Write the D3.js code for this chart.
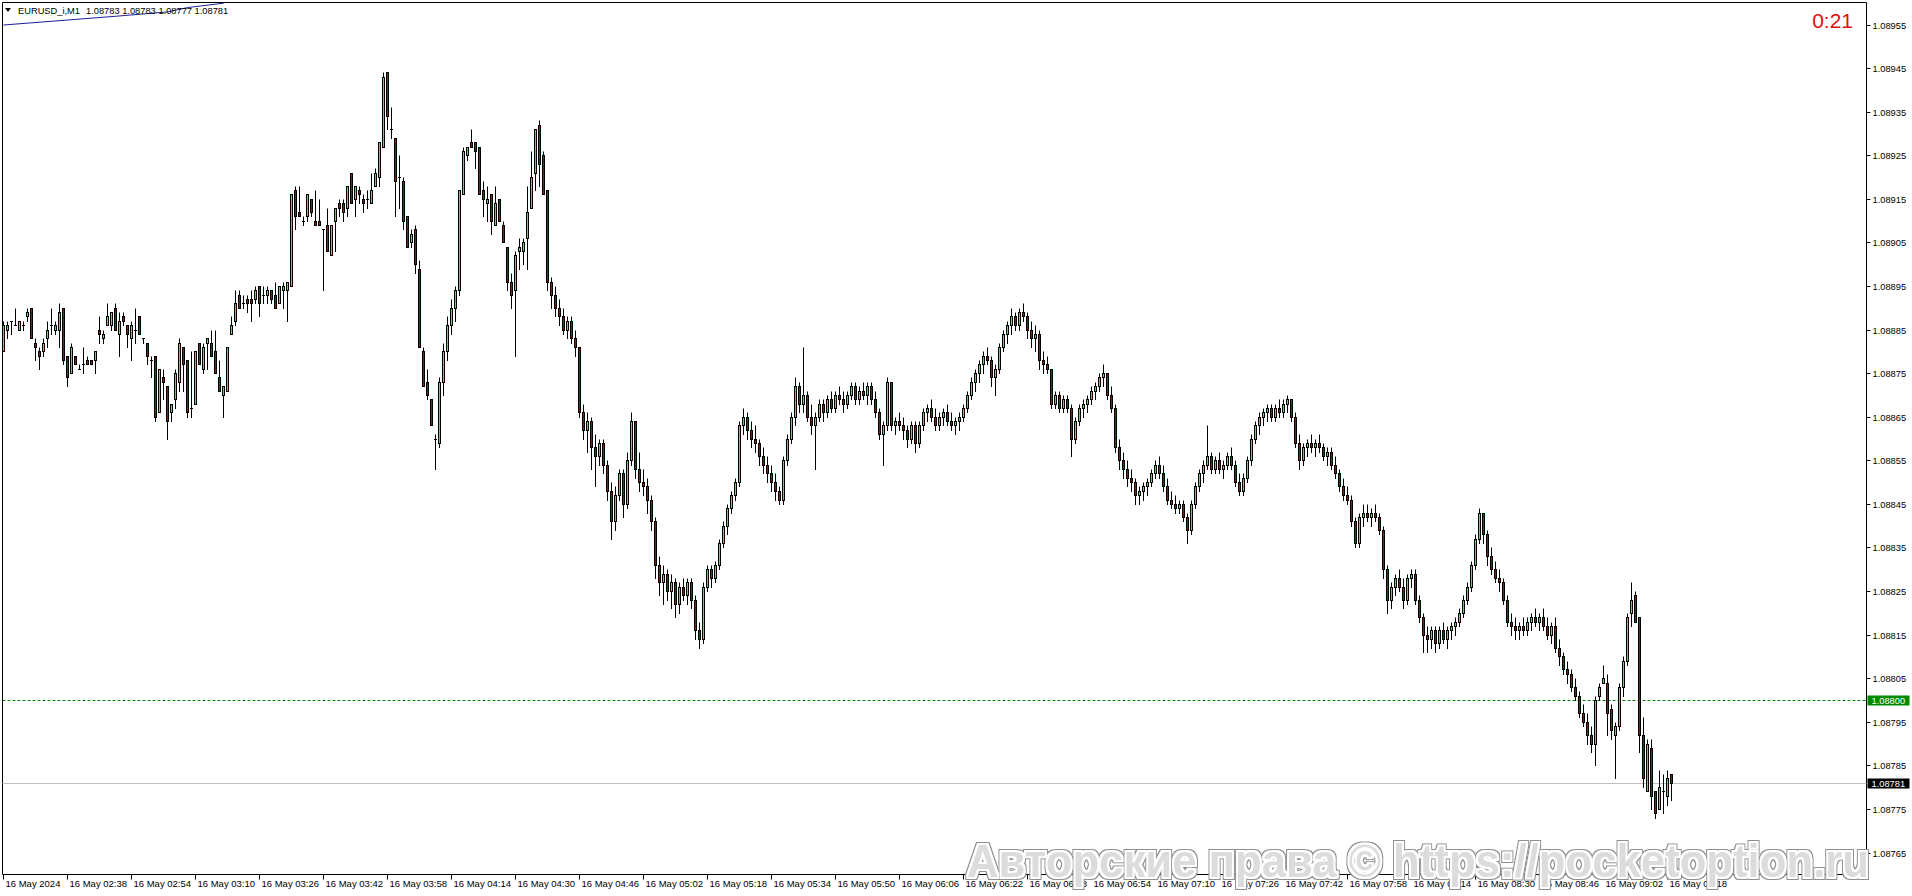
<!DOCTYPE html>
<html>
<head>
<meta charset="utf-8">
<script src="https://cdn.jsdelivr.net/npm/d3@7"></script>
<style>
  html, body { margin: 0; padding: 0; background: #fff; overflow: hidden; }
  svg { display: block; }
  text { font-family: "Liberation Sans", Arial, sans-serif; }
</style>
</head>
<body>
<svg id="chart" width="1912" height="896"></svg>
<script>
// chart values
var symbolName = "EURUSD_i,M1";
var lastQuote = ["1.08783", "1.08783", "1.08777", "1.08781"];
var timerText = "0:21";
var bidPrice = 1.08781;
var levelPrice = 1.08800;
var watermarkText = "Авторские права © https://pocketoption.ru";

var priceTicks = [1.08955, 1.08945, 1.08935, 1.08925, 1.08915, 1.08905, 1.08895, 1.08885, 1.08875, 1.08865,
  1.08855, 1.08845, 1.08835, 1.08825, 1.08815, 1.08805, 1.08795, 1.08785, 1.08775, 1.08765];

var timeLabels = ["16 May 2024", "16 May 02:38", "16 May 02:54", "16 May 03:10", "16 May 03:26", "16 May 03:42",
  "16 May 03:58", "16 May 04:14", "16 May 04:30", "16 May 04:46", "16 May 05:02", "16 May 05:18", "16 May 05:34",
  "16 May 05:50", "16 May 06:06", "16 May 06:22", "16 May 06:38", "16 May 06:54", "16 May 07:10", "16 May 07:26",
  "16 May 07:42", "16 May 07:58", "16 May 08:14", "16 May 08:30", "16 May 08:46", "16 May 09:02", "16 May 09:18"];
var barsPerLabel = 16;

// indicator line in the top-left corner (bar index, price)
var maBars = [0, 28, 41, 46, 55];
var maPrices = [1.08955, 1.08957, 1.08958, 1.08959, 1.08960];

// M1 candles from 02:22 to 09:19
var opens = [
  1.08880,1.08885,1.08887,1.08886,1.08885,1.08886,1.08888,1.08890,1.08882,1.08880,
  1.08880,1.08883,1.08886,1.08885,1.08885,1.08890,1.08879,1.08875,1.08879,1.08876,
  1.08877,1.08878,1.08878,1.08878,1.08885,1.08883,1.08886,1.08886,1.08890,1.08884,
  1.08888,1.08886,1.08883,1.08885,1.08888,1.08883,1.08882,1.08878,1.08879,1.08866,
  1.08874,1.08872,1.08866,1.08869,1.08873,1.08881,1.08878,1.08867,1.08868,1.08882,
  1.08876,1.08882,1.08882,1.08880,1.08874,1.08870,1.08871,1.08884,1.08887,1.08893,
  1.08891,1.08892,1.08892,1.08892,1.08895,1.08893,1.08893,1.08894,1.08893,1.08891,
  1.08894,1.08894,1.08895,1.08917,1.08912,1.08910,1.08911,1.08915,1.08910,1.08910,
  1.08908,1.08909,1.08902,1.08910,1.08914,1.08914,1.08913,1.08921,1.08915,1.08917,
  1.08915,1.08915,1.08914,1.08918,1.08920,1.08927,1.08944,1.08931,1.08929,1.08920,
  1.08919,1.08911,1.08905,1.08908,1.08899,1.08880,1.08873,1.08869,1.08860,1.08859,
  1.08873,1.08880,1.08886,1.08890,1.08894,1.08916,1.08925,1.08928,1.08928,1.08927,
  1.08917,1.08914,1.08916,1.08909,1.08915,1.08909,1.08904,1.08896,1.08894,1.08903,
  1.08903,1.08906,1.08913,1.08921,1.08932,1.08925,1.08917,1.08896,1.08893,1.08890,
  1.08888,1.08885,1.08887,1.08883,1.08881,1.08866,1.08862,1.08864,1.08858,1.08856,
  1.08859,1.08854,1.08848,1.08841,1.08847,1.08852,1.08845,1.08855,1.08864,1.08853,
  1.08850,1.08849,1.08846,1.08841,1.08831,1.08827,1.08829,1.08825,1.08827,1.08822,
  1.08826,1.08824,1.08827,1.08823,1.08816,1.08814,1.08826,1.08830,1.08828,1.08831,
  1.08836,1.08840,1.08844,1.08847,1.08850,1.08863,1.08865,1.08862,1.08860,1.08859,
  1.08856,1.08854,1.08852,1.08850,1.08848,1.08846,1.08855,1.08860,1.08865,1.08872,
  1.08868,1.08870,1.08865,1.08863,1.08865,1.08868,1.08866,1.08869,1.08867,1.08870,
  1.08869,1.08868,1.08870,1.08872,1.08869,1.08871,1.08870,1.08872,1.08869,1.08866,
  1.08861,1.08863,1.08873,1.08863,1.08864,1.08863,1.08862,1.08860,1.08863,1.08859,
  1.08863,1.08866,1.08867,1.08865,1.08863,1.08865,1.08866,1.08864,1.08863,1.08864,
  1.08865,1.08867,1.08870,1.08873,1.08875,1.08877,1.08879,1.08878,1.08874,1.08876,
  1.08881,1.08884,1.08886,1.08888,1.08886,1.08889,1.08888,1.08885,1.08883,1.08884,
  1.08878,1.08877,1.08876,1.08868,1.08870,1.08867,1.08869,1.08867,1.08860,1.08864,
  1.08867,1.08868,1.08869,1.08871,1.08872,1.08874,1.08875,1.08870,1.08867,1.08858,
  1.08855,1.08853,1.08851,1.08850,1.08847,1.08848,1.08849,1.08850,1.08852,1.08854,
  1.08852,1.08849,1.08846,1.08845,1.08844,1.08845,1.08842,1.08839,1.08845,1.08849,
  1.08852,1.08854,1.08856,1.08853,1.08855,1.08853,1.08854,1.08856,1.08854,1.08850,
  1.08848,1.08851,1.08855,1.08860,1.08863,1.08865,1.08866,1.08867,1.08865,1.08867,
  1.08866,1.08868,1.08869,1.08865,1.08859,1.08855,1.08858,1.08859,1.08858,1.08859,
  1.08858,1.08856,1.08857,1.08854,1.08852,1.08849,1.08847,1.08846,1.08841,1.08836,
  1.08842,1.08843,1.08842,1.08843,1.08842,1.08839,1.08830,1.08823,1.08826,1.08828,
  1.08826,1.08823,1.08828,1.08829,1.08823,1.08819,1.08815,1.08814,1.08816,1.08813,
  1.08816,1.08814,1.08816,1.08817,1.08818,1.08820,1.08823,1.08826,1.08831,1.08837,
  1.08843,1.08838,1.08833,1.08830,1.08828,1.08827,1.08823,1.08818,1.08817,1.08816,
  1.08817,1.08816,1.08818,1.08819,1.08818,1.08819,1.08817,1.08815,1.08817,1.08812,
  1.08810,1.08807,1.08806,1.08803,1.08801,1.08797,1.08795,1.08792,1.08790,1.08801,
  1.08804,1.08804,1.08798,1.08792,1.08794,1.08803,1.08809,1.08820,1.08824,1.08819,
  1.08792,1.08779,1.08789,1.08779,1.08775,1.08779,1.08778,1.08783];
var highs = [
  1.08887,1.08887,1.08887,1.08890,1.08887,1.08887,1.08890,1.08890,1.08883,1.08881,
  1.08883,1.08887,1.08890,1.08887,1.08891,1.08890,1.08879,1.08882,1.08879,1.08877,
  1.08881,1.08879,1.08878,1.08880,1.08888,1.08885,1.08891,1.08889,1.08891,1.08889,
  1.08889,1.08886,1.08887,1.08890,1.08888,1.08883,1.08882,1.08879,1.08879,1.08876,
  1.08876,1.08872,1.08868,1.08876,1.08883,1.08881,1.08878,1.08880,1.08880,1.08882,
  1.08882,1.08883,1.08885,1.08885,1.08878,1.08872,1.08881,1.08888,1.08894,1.08894,
  1.08893,1.08893,1.08894,1.08895,1.08895,1.08895,1.08895,1.08894,1.08896,1.08895,
  1.08896,1.08896,1.08916,1.08918,1.08918,1.08911,1.08916,1.08915,1.08917,1.08915,
  1.08908,1.08913,1.08909,1.08913,1.08915,1.08915,1.08918,1.08921,1.08918,1.08918,
  1.08916,1.08917,1.08921,1.08922,1.08928,1.08944,1.08944,1.08936,1.08929,1.08925,
  1.08920,1.08911,1.08908,1.08909,1.08901,1.08881,1.08876,1.08869,1.08861,1.08874,
  1.08882,1.08888,1.08892,1.08895,1.08917,1.08927,1.08927,1.08931,1.08928,1.08927,
  1.08919,1.08918,1.08916,1.08918,1.08915,1.08910,1.08904,1.08898,1.08903,1.08906,
  1.08906,1.08918,1.08926,1.08931,1.08933,1.08926,1.08917,1.08897,1.08895,1.08892,
  1.08890,1.08888,1.08888,1.08885,1.08881,1.08868,1.08866,1.08865,1.08861,1.08860,
  1.08860,1.08855,1.08850,1.08849,1.08853,1.08853,1.08857,1.08866,1.08864,1.08857,
  1.08853,1.08851,1.08847,1.08842,1.08833,1.08831,1.08830,1.08829,1.08828,1.08827,
  1.08828,1.08828,1.08828,1.08824,1.08818,1.08827,1.08831,1.08831,1.08832,1.08837,
  1.08841,1.08845,1.08848,1.08851,1.08864,1.08867,1.08866,1.08864,1.08863,1.08860,
  1.08858,1.08856,1.08854,1.08852,1.08849,1.08856,1.08861,1.08866,1.08874,1.08873,
  1.08881,1.08871,1.08868,1.08866,1.08869,1.08869,1.08870,1.08871,1.08871,1.08872,
  1.08871,1.08871,1.08873,1.08873,1.08872,1.08873,1.08873,1.08873,1.08871,1.08867,
  1.08864,1.08874,1.08873,1.08865,1.08866,1.08865,1.08863,1.08864,1.08864,1.08864,
  1.08867,1.08868,1.08869,1.08867,1.08866,1.08867,1.08868,1.08866,1.08865,1.08866,
  1.08868,1.08871,1.08874,1.08876,1.08878,1.08880,1.08881,1.08879,1.08877,1.08882,
  1.08885,1.08887,1.08890,1.08889,1.08890,1.08891,1.08889,1.08887,1.08886,1.08885,
  1.08880,1.08879,1.08876,1.08871,1.08871,1.08870,1.08870,1.08868,1.08865,1.08868,
  1.08869,1.08870,1.08872,1.08873,1.08875,1.08877,1.08875,1.08872,1.08868,1.08860,
  1.08857,1.08855,1.08853,1.08851,1.08849,1.08850,1.08851,1.08853,1.08855,1.08856,
  1.08854,1.08851,1.08848,1.08847,1.08846,1.08846,1.08843,1.08846,1.08850,1.08853,
  1.08855,1.08863,1.08857,1.08856,1.08857,1.08855,1.08857,1.08858,1.08855,1.08852,
  1.08852,1.08856,1.08861,1.08864,1.08866,1.08867,1.08868,1.08868,1.08868,1.08869,
  1.08869,1.08870,1.08869,1.08866,1.08861,1.08859,1.08860,1.08861,1.08860,1.08861,
  1.08859,1.08858,1.08858,1.08856,1.08853,1.08851,1.08849,1.08847,1.08842,1.08843,
  1.08845,1.08845,1.08844,1.08845,1.08843,1.08840,1.08831,1.08827,1.08829,1.08830,
  1.08828,1.08829,1.08830,1.08830,1.08824,1.08820,1.08817,1.08817,1.08817,1.08817,
  1.08818,1.08817,1.08818,1.08819,1.08821,1.08824,1.08827,1.08832,1.08838,1.08844,
  1.08843,1.08839,1.08835,1.08832,1.08830,1.08828,1.08824,1.08820,1.08819,1.08818,
  1.08819,1.08819,1.08820,1.08821,1.08820,1.08821,1.08819,1.08818,1.08819,1.08814,
  1.08811,1.08809,1.08807,1.08805,1.08802,1.08799,1.08797,1.08794,1.08801,1.08804,
  1.08808,1.08806,1.08799,1.08795,1.08804,1.08810,1.08820,1.08827,1.08825,1.08819,
  1.08796,1.08791,1.08791,1.08779,1.08784,1.08783,1.08784,1.08783];
var lows = [
  1.08880,1.08883,1.08884,1.08886,1.08885,1.08885,1.08887,1.08883,1.08878,1.08876,
  1.08879,1.08881,1.08884,1.08884,1.08881,1.08877,1.08872,1.08875,1.08877,1.08876,
  1.08875,1.08877,1.08877,1.08875,1.08882,1.08882,1.08886,1.08885,1.08885,1.08879,
  1.08886,1.08881,1.08878,1.08882,1.08884,1.08882,1.08877,1.08874,1.08864,1.08866,
  1.08869,1.08860,1.08864,1.08867,1.08871,1.08871,1.08865,1.08865,1.08868,1.08877,
  1.08875,1.08876,1.08879,1.08875,1.08871,1.08865,1.08871,1.08884,1.08886,1.08890,
  1.08890,1.08889,1.08887,1.08891,1.08888,1.08891,1.08891,1.08891,1.08890,1.08891,
  1.08890,1.08887,1.08895,1.08908,1.08911,1.08909,1.08910,1.08911,1.08909,1.08909,
  1.08894,1.08903,1.08902,1.08903,1.08911,1.08910,1.08911,1.08914,1.08911,1.08914,
  1.08912,1.08913,1.08914,1.08918,1.08918,1.08927,1.08931,1.08929,1.08911,1.08913,
  1.08908,1.08904,1.08904,1.08898,1.08881,1.08872,1.08869,1.08863,1.08853,1.08858,
  1.08870,1.08878,1.08884,1.08887,1.08893,1.08916,1.08924,1.08927,1.08922,1.08916,
  1.08911,1.08910,1.08907,1.08909,1.08910,1.08905,1.08894,1.08890,1.08879,1.08899,
  1.08900,1.08899,1.08913,1.08917,1.08918,1.08916,1.08894,1.08890,1.08888,1.08886,
  1.08884,1.08883,1.08882,1.08879,1.08865,1.08860,1.08857,1.08853,1.08849,1.08854,
  1.08852,1.08846,1.08837,1.08839,1.08846,1.08842,1.08844,1.08854,1.08851,1.08848,
  1.08847,1.08843,1.08839,1.08828,1.08824,1.08822,1.08823,1.08821,1.08819,1.08820,
  1.08823,1.08822,1.08821,1.08814,1.08812,1.08813,1.08825,1.08826,1.08827,1.08830,
  1.08835,1.08838,1.08843,1.08846,1.08849,1.08861,1.08860,1.08858,1.08857,1.08854,
  1.08852,1.08850,1.08848,1.08846,1.08845,1.08845,1.08854,1.08859,1.08863,1.08866,
  1.08866,1.08864,1.08861,1.08853,1.08864,1.08864,1.08865,1.08866,1.08866,1.08868,
  1.08866,1.08867,1.08869,1.08868,1.08868,1.08869,1.08868,1.08868,1.08865,1.08860,
  1.08854,1.08862,1.08862,1.08861,1.08862,1.08860,1.08858,1.08859,1.08857,1.08858,
  1.08862,1.08864,1.08864,1.08862,1.08862,1.08863,1.08863,1.08862,1.08861,1.08862,
  1.08864,1.08866,1.08869,1.08871,1.08873,1.08875,1.08877,1.08872,1.08870,1.08875,
  1.08880,1.08882,1.08884,1.08885,1.08885,1.08887,1.08883,1.08881,1.08880,1.08876,
  1.08875,1.08875,1.08867,1.08867,1.08866,1.08866,1.08866,1.08856,1.08859,1.08863,
  1.08865,1.08866,1.08868,1.08869,1.08871,1.08872,1.08869,1.08866,1.08857,1.08853,
  1.08851,1.08849,1.08848,1.08845,1.08845,1.08846,1.08847,1.08849,1.08851,1.08851,
  1.08848,1.08845,1.08844,1.08843,1.08843,1.08841,1.08836,1.08838,1.08844,1.08848,
  1.08850,1.08853,1.08852,1.08852,1.08852,1.08851,1.08853,1.08853,1.08849,1.08847,
  1.08847,1.08850,1.08854,1.08859,1.08861,1.08863,1.08864,1.08864,1.08864,1.08865,
  1.08865,1.08866,1.08864,1.08858,1.08853,1.08854,1.08856,1.08857,1.08856,1.08857,
  1.08855,1.08854,1.08853,1.08851,1.08848,1.08846,1.08845,1.08840,1.08835,1.08835,
  1.08840,1.08841,1.08840,1.08841,1.08838,1.08828,1.08820,1.08821,1.08824,1.08825,
  1.08821,1.08822,1.08826,1.08822,1.08818,1.08811,1.08811,1.08812,1.08811,1.08812,
  1.08813,1.08812,1.08814,1.08815,1.08817,1.08819,1.08822,1.08825,1.08830,1.08836,
  1.08836,1.08831,1.08829,1.08827,1.08825,1.08822,1.08817,1.08815,1.08814,1.08814,
  1.08815,1.08815,1.08816,1.08817,1.08816,1.08816,1.08814,1.08813,1.08811,1.08808,
  1.08806,1.08804,1.08802,1.08800,1.08796,1.08794,1.08790,1.08788,1.08785,1.08800,
  1.08804,1.08792,1.08791,1.08782,1.08793,1.08801,1.08808,1.08817,1.08818,1.08788,
  1.08780,1.08779,1.08775,1.08773,1.08775,1.08774,1.08776,1.08777];
var closes = [
  1.08886,1.08886,1.08887,1.08886,1.08887,1.08886,1.08889,1.08883,1.08881,1.08879,
  1.08882,1.08885,1.08886,1.08886,1.08889,1.08878,1.08874,1.08881,1.08877,1.08876,
  1.08877,1.08877,1.08877,1.08880,1.08884,1.08884,1.08888,1.08889,1.08885,1.08887,
  1.08887,1.08884,1.08886,1.08885,1.08884,1.08883,1.08879,1.08878,1.08865,1.08876,
  1.08873,1.08864,1.08868,1.08875,1.08882,1.08877,1.08866,1.08867,1.08880,1.08877,
  1.08881,1.08883,1.08879,1.08875,1.08871,1.08872,1.08881,1.08886,1.08891,1.08890,
  1.08891,1.08891,1.08891,1.08894,1.08891,1.08893,1.08894,1.08892,1.08890,1.08895,
  1.08895,1.08896,1.08916,1.08911,1.08911,1.08910,1.08916,1.08912,1.08909,1.08909,
  1.08908,1.08903,1.08909,1.08913,1.08913,1.08912,1.08918,1.08914,1.08918,1.08916,
  1.08914,1.08915,1.08917,1.08921,1.08928,1.08943,1.08934,1.08931,1.08919,1.08920,
  1.08910,1.08904,1.08907,1.08900,1.08881,1.08872,1.08870,1.08863,1.08860,1.08873,
  1.08880,1.08886,1.08890,1.08894,1.08917,1.08926,1.08927,1.08927,1.08926,1.08916,
  1.08915,1.08915,1.08910,1.08914,1.08910,1.08905,1.08896,1.08893,1.08902,1.08904,
  1.08905,1.08912,1.08920,1.08931,1.08923,1.08916,1.08896,1.08893,1.08890,1.08888,
  1.08885,1.08887,1.08883,1.08881,1.08866,1.08862,1.08864,1.08858,1.08856,1.08859,
  1.08854,1.08848,1.08841,1.08847,1.08852,1.08845,1.08855,1.08864,1.08853,1.08850,
  1.08849,1.08846,1.08841,1.08831,1.08827,1.08829,1.08825,1.08827,1.08822,1.08826,
  1.08824,1.08827,1.08823,1.08816,1.08814,1.08826,1.08830,1.08828,1.08831,1.08836,
  1.08840,1.08844,1.08847,1.08850,1.08863,1.08865,1.08862,1.08860,1.08859,1.08856,
  1.08854,1.08852,1.08850,1.08848,1.08846,1.08855,1.08860,1.08865,1.08872,1.08868,
  1.08870,1.08865,1.08863,1.08865,1.08868,1.08866,1.08869,1.08867,1.08870,1.08869,
  1.08868,1.08870,1.08872,1.08869,1.08871,1.08870,1.08872,1.08869,1.08866,1.08861,
  1.08863,1.08873,1.08863,1.08864,1.08863,1.08862,1.08860,1.08863,1.08859,1.08863,
  1.08866,1.08867,1.08865,1.08863,1.08865,1.08866,1.08864,1.08863,1.08864,1.08865,
  1.08867,1.08870,1.08873,1.08875,1.08877,1.08879,1.08878,1.08874,1.08876,1.08881,
  1.08884,1.08886,1.08888,1.08886,1.08889,1.08888,1.08885,1.08883,1.08884,1.08878,
  1.08877,1.08876,1.08868,1.08870,1.08867,1.08869,1.08867,1.08860,1.08864,1.08867,
  1.08868,1.08869,1.08871,1.08872,1.08874,1.08875,1.08870,1.08867,1.08858,1.08855,
  1.08853,1.08851,1.08850,1.08847,1.08848,1.08849,1.08850,1.08852,1.08854,1.08852,
  1.08849,1.08846,1.08845,1.08844,1.08845,1.08842,1.08839,1.08845,1.08849,1.08852,
  1.08854,1.08856,1.08853,1.08855,1.08853,1.08854,1.08856,1.08854,1.08850,1.08848,
  1.08851,1.08855,1.08860,1.08863,1.08865,1.08866,1.08867,1.08865,1.08867,1.08866,
  1.08868,1.08869,1.08865,1.08859,1.08855,1.08858,1.08859,1.08858,1.08859,1.08858,
  1.08856,1.08857,1.08854,1.08852,1.08849,1.08847,1.08846,1.08841,1.08836,1.08842,
  1.08843,1.08842,1.08843,1.08842,1.08839,1.08830,1.08823,1.08826,1.08828,1.08826,
  1.08823,1.08828,1.08829,1.08823,1.08819,1.08815,1.08814,1.08816,1.08813,1.08816,
  1.08814,1.08816,1.08817,1.08818,1.08820,1.08823,1.08826,1.08831,1.08837,1.08843,
  1.08838,1.08833,1.08830,1.08828,1.08827,1.08823,1.08818,1.08817,1.08816,1.08817,
  1.08816,1.08818,1.08819,1.08818,1.08819,1.08817,1.08815,1.08817,1.08812,1.08810,
  1.08807,1.08806,1.08803,1.08801,1.08797,1.08795,1.08792,1.08790,1.08800,1.08803,
  1.08805,1.08797,1.08793,1.08794,1.08803,1.08809,1.08819,1.08823,1.08818,1.08792,
  1.08782,1.08790,1.08778,1.08774,1.08780,1.08779,1.08782,1.08781];

var upColor = "#62d08c";
var downColor = "#861c1c";

var svg = d3.select("#chart");
var plotLeft = 2.5, plotTop = 2.5, plotRight = 1866.5, plotBottom = 874.5;
var barCount = opens.length;

var x = d3.scaleLinear().domain([0, barCount - 1]).range([3.5, 3.5 + 4 * (barCount - 1)]);
var y = d3.scaleLinear().domain([1.08765, 1.08955]).range([853, 25]);
function py(p) { return Math.floor(y(p)) + 0.5; }

// outline filter for the watermark
var defs = svg.append("defs");
defs.append("clipPath").attr("id", "plotClip").append("rect")
  .attr("x", plotLeft).attr("y", plotTop).attr("width", plotRight - plotLeft).attr("height", plotBottom - plotTop);
var f = defs.append("filter").attr("id", "wmOutline").attr("x", "-2%").attr("y", "-20%").attr("width", "104%").attr("height", "140%");
f.append("feMorphology").attr("in", "SourceAlpha").attr("operator", "dilate").attr("radius", 3).attr("result", "outer");
f.append("feFlood").attr("flood-color", "#8f8f8f").attr("result", "grey");
f.append("feComposite").attr("in", "grey").attr("in2", "outer").attr("operator", "in").attr("result", "outerC");
f.append("feMorphology").attr("in", "SourceAlpha").attr("operator", "dilate").attr("radius", 1.6).attr("result", "inner");
f.append("feFlood").attr("flood-color", "#ffffff").attr("result", "white");
f.append("feComposite").attr("in", "white").attr("in2", "inner").attr("operator", "in").attr("result", "innerC");
var fm = f.append("feMerge");
fm.append("feMergeNode").attr("in", "outerC");
fm.append("feMergeNode").attr("in", "innerC");
fm.append("feMergeNode").attr("in", "SourceGraphic");

// frame
svg.append("path")
  .attr("d", "M" + plotLeft + "," + plotBottom + "V" + plotTop + "H" + plotRight + "V" + plotBottom + "H" + plotLeft)
  .attr("fill", "none").attr("stroke", "#000").attr("stroke-width", 1);

// level + bid lines
svg.append("line")
  .attr("x1", plotLeft).attr("x2", plotRight)
  .attr("y1", py(levelPrice)).attr("y2", py(levelPrice))
  .attr("stroke", "#008000").attr("stroke-dasharray", "3,2");
svg.append("line")
  .attr("x1", plotLeft).attr("x2", plotRight)
  .attr("y1", py(bidPrice)).attr("y2", py(bidPrice))
  .attr("stroke", "#c0c0c0");

// candles
var candles = d3.range(barCount).map(function (i) {
  return { i: i, o: opens[i], h: highs[i], l: lows[i], c: closes[i] };
});
var g = svg.append("g").attr("class", "candles");
var bars = g.selectAll("g").data(candles).enter().append("g");

bars.append("line")
  .attr("x1", d => x(d.i)).attr("x2", d => x(d.i))
  .attr("y1", d => py(d.h)).attr("y2", d => py(d.l) + 0.5)
  .attr("stroke", "#000");

bars.filter(d => d.o !== d.c).append("rect")
  .attr("x", d => x(d.i) - 1)
  .attr("width", 2)
  .attr("y", d => py(Math.max(d.o, d.c)))
  .attr("height", d => py(Math.min(d.o, d.c)) - py(Math.max(d.o, d.c)))
  .attr("fill", d => d.c > d.o ? upColor : downColor)
  .attr("stroke", "#000");

bars.filter(d => d.o === d.c).append("line")
  .attr("x1", d => x(d.i) - 1.5).attr("x2", d => x(d.i) + 1.5)
  .attr("y1", d => py(d.c)).attr("y2", d => py(d.c))
  .attr("stroke", "#000");

// indicator line, runs out of the top of the plot
var maLine = d3.line().x((d, k) => x(maBars[k])).y(d => y(d));
svg.append("path").attr("d", maLine(maPrices))
  .attr("fill", "none").attr("stroke", "#1c1c9c").attr("clip-path", "url(#plotClip)");

// price axis
var pa = svg.append("g").attr("class", "price-axis");
pa.selectAll("line").data(priceTicks).enter().append("line")
  .attr("x1", plotRight).attr("x2", plotRight + 4)
  .attr("y1", d => py(d)).attr("y2", d => py(d))
  .attr("stroke", "#000");
pa.selectAll("text").data(priceTicks).enter().append("text")
  .attr("x", plotRight + 6).attr("y", d => py(d) + 3.5)
  .attr("font-size", "9.3px").attr("fill", "#000")
  .text(d => d.toFixed(5));

function priceTag(p, bg) {
  var yy = py(p);
  svg.append("rect").attr("x", plotRight + 1).attr("y", yy - 5).attr("width", 42).attr("height", 10).attr("fill", bg);
  svg.append("text").attr("x", plotRight + 5).attr("y", yy + 3.5)
    .attr("font-size", "9.3px").attr("fill", "#fff").text(p.toFixed(5));
}
priceTag(levelPrice, "#008a00");
priceTag(bidPrice, "#000");

// time axis
var ta = svg.append("g").attr("class", "time-axis");
ta.selectAll("line").data(timeLabels).enter().append("line")
  .attr("x1", (d, k) => x(k * barsPerLabel)).attr("x2", (d, k) => x(k * barsPerLabel))
  .attr("y1", plotBottom).attr("y2", plotBottom + 5)
  .attr("stroke", "#000");
ta.selectAll("text").data(timeLabels).enter().append("text")
  .attr("x", (d, k) => x(k * barsPerLabel) + 2).attr("y", 887)
  .attr("font-size", "9.5px").attr("fill", "#000")
  .text(d => d);

// header
svg.append("path").attr("d", "M5,8H11L8,12Z").attr("fill", "#000");
svg.append("text").attr("x", 18).attr("y", 14).attr("font-size", "9.3px").text(symbolName);
svg.append("text").attr("x", 86).attr("y", 14).attr("font-size", "9.3px").text(lastQuote.join(" "));

// countdown
svg.append("text").attr("x", 1853).attr("y", 28).attr("text-anchor", "end")
  .attr("font-size", "21px").attr("fill", "#e01010").text(timerText);

// watermark
svg.append("text").attr("class", "watermark")
  .attr("x", 967).attr("y", 877)
  .attr("font-size", "46px").attr("font-weight", "bold")
  .attr("textLength", 902).attr("lengthAdjust", "spacingAndGlyphs")
  .attr("fill", "#dcdcdc").attr("filter", "url(#wmOutline)")
  .text(watermarkText);
</script>
</body>
</html>
